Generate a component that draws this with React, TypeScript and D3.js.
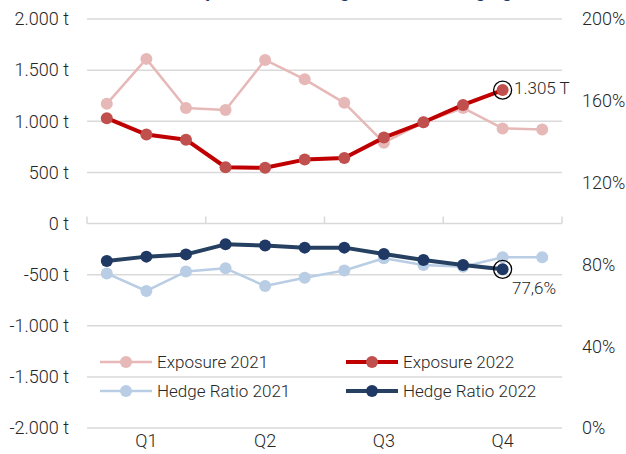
import * as d3 from "d3";

// months (12 points), quarter labels under groups of three
const months = d3.range(12);
const quarters = ["Q1", "Q2", "Q3", "Q4"];

const exposure2021 = [1170, 1610, 1130, 1110, 1600, 1410, 1180, 790, 990, 1130, 930, 920];
const exposure2022 = [1030, 870, 820, 550, 545, 625, 640, 840, 990, 1160, 1305];
const hedge2021 = [75.6, 67, 76.5, 78.1, 69.4, 73.5, 77, 83, 79.7, 78.9, 83.5, 83.5];
const hedge2022 = [81.7, 83.8, 84.9, 89.8, 89.2, 88.2, 88.2, 85.1, 82.2, 79.7, 77.6];

const leftTicks = [2000, 1500, 1000, 500, 0, -500, -1000, -1500, -2000];
const rightTicks = [200, 160, 120, 80, 40, 0];

const width = 626;
const height = 454;
const font = "Roboto, 'Liberation Sans', Arial, sans-serif";
const ink = "#262626";

const de = d3.formatLocale({ decimal: ",", thousands: ".", grouping: [3], currency: ["", " €"], minus: "-" });
const fmtT = de.format(",d");
const fmtP = de.format(".1f");

export default function App() {
  const x = d3.scaleBand<number>().domain(months).range([87, 562]);
  const cx = (i: number) => (x(i) as number) + x.bandwidth() / 2;
  const y = d3.scaleLinear().domain([-2000, 2000]).range([428, 19]);
  const yp = d3.scaleLinear().domain([0, 200]).range([428, 19]);

  const lineT = d3.line<number>().x((_, i) => cx(i)).y((d) => y(d));
  const lineP = d3.line<number>().x((_, i) => cx(i)).y((d) => yp(d));

  const series = [
    { name: "Exposure 2021", data: exposure2021, line: lineT, stroke: "#E6B9B8", dot: "#E6B9B8", w: 2.5 },
    { name: "Hedge Ratio 2021", data: hedge2021, line: lineP, stroke: "#B9CDE5", dot: "#B9CDE5", w: 2.5 },
    { name: "Exposure 2022", data: exposure2022, line: lineT, stroke: "#C00000", dot: "#C0504D", w: 4 },
    { name: "Hedge Ratio 2022", data: hedge2022, line: lineP, stroke: "#254061", dot: "#1F3864", w: 4 },
  ];
  const legendOrder = [series[0], series[2], series[1], series[3]];

  const lastE = exposure2022.length - 1;
  const lastH = hedge2022.length - 1;
  const quarterEdges = d3.range(5).map((q) => 87 + q * 3 * x.step());

  return (
    <div style={{ position: "absolute", left: 0, top: 0 }}>
      <svg width={width} height={height} style={{ display: "block", background: "#fff" }} fontFamily={font} fontWeight={300}>
        <text x={185} y={-3} fontSize={19} fontWeight="bold" fill="#1F3864">
          Exposure and Hedge Ratio im Hedging
        </text>

        {leftTicks.filter((t) => t !== 0).map((t) => (
          <line key={t} x1={87} x2={562} y1={y(t)} y2={y(t)} stroke="#D9D9D9" strokeWidth={1.5} />
        ))}
        <line x1={87} x2={562} y1={y(0)} y2={y(0)} stroke="#D9D9D9" strokeWidth={1.5} />
        {quarterEdges.map((e) => (
          <line key={e} x1={e} x2={e} y1={y(0)} y2={y(0) - 7} stroke="#D9D9D9" strokeWidth={1.5} />
        ))}

        {leftTicks.map((t) => (
          <text key={t} x={69} y={y(t)} dy="0.35em" textAnchor="end" fontSize={18} fill={ink}>
            {fmtT(t)} t
          </text>
        ))}
        {rightTicks.map((t) => (
          <text key={t} x={582} y={yp(t)} dy="0.35em" fontSize={18} fill={ink}>
            {t}%
          </text>
        ))}
        {quarters.map((q, i) => (
          <text key={q} x={(quarterEdges[i] + quarterEdges[i + 1]) / 2} y={447} textAnchor="middle" fontSize={18} fill={ink}>
            {q}
          </text>
        ))}

        {series.map((s) => (
          <g key={s.name}>
            <path d={s.line(s.data) ?? ""} fill="none" stroke={s.stroke} strokeWidth={s.w} strokeLinejoin="round" />
            {s.data.map((d, i) => (
              <circle key={i} cx={cx(i)} cy={s.line === lineT ? y(d) : yp(d)} r={6} fill={s.dot} />
            ))}
          </g>
        ))}

        <circle cx={cx(lastE)} cy={y(exposure2022[lastE])} r={9} fill="none" stroke="#000" strokeWidth={1.3} />
        <text x={514} y={y(exposure2022[lastE]) - 2} dy="0.35em" fontSize={17} fill={ink}>
          {fmtT(exposure2022[lastE])} T
        </text>
        <circle cx={cx(lastH)} cy={yp(hedge2022[lastH])} r={9} fill="none" stroke="#000" strokeWidth={1.3} />
        <text x={512} y={yp(hedge2022[lastH]) + 19} dy="0.35em" fontSize={17} fill={ink}>
          {fmtP(hedge2022[lastH])}%
        </text>

        {legendOrder.map((s, i) => {
          const lx = i % 2 === 0 ? 100 : 346;
          const ly = i < 2 ? 362 : 391;
          return (
            <g key={s.name}>
              <line x1={lx} x2={lx + 52} y1={ly} y2={ly} stroke={s.stroke} strokeWidth={s.w} />
              <circle cx={lx + 26} cy={ly} r={6} fill={s.dot} />
              <text x={lx + 57} y={ly} dy="0.35em" fontSize={17} fill={ink}>
                {s.name}
              </text>
            </g>
          );
        })}
      </svg>
    </div>
  );
}
